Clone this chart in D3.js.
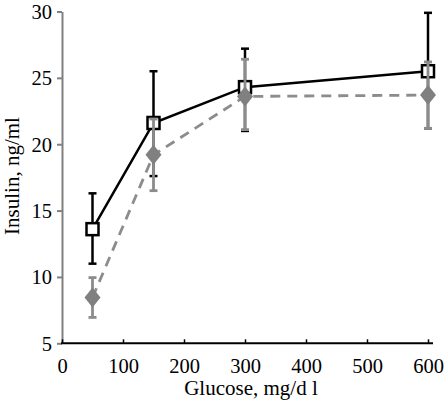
<!DOCTYPE html>
<html><head><meta charset="utf-8">
<script src="https://cdn.jsdelivr.net/npm/d3@7"></script>
<style>body{margin:0;background:#fff}svg{display:block}text{font-family:"Liberation Serif","Times New Roman",serif}</style>
</head><body><svg id="c" width="445" height="400"></svg>
<script>
const glucose = [50, 150, 300, 600];
const seriesA = [13.6, 21.6, 24.3, 25.5];
const seriesAUpper = [16.3, 25.5, 27.2, 29.9];
const seriesALower = [11.0, 17.6, 21.0, 21.2];
const seriesB = [8.45, 19.2, 23.6, 23.7];
const seriesBUpper = [9.95, 21.9, 26.4, 26.2];
const seriesBLower = [6.95, 16.5, 21.1, 21.2];
const xTicks = [0, 100, 200, 300, 400, 500, 600];
const yTicks = [5, 10, 15, 20, 25, 30];

const svg = d3.select("#c");
const x = d3.scaleLinear().domain([0, 600]).range([62, 428]);
const y = d3.scaleLinear().domain([5, 30]).range([343.3, 11.5]);

// axes
const gy = svg.append("g").attr("transform", "translate(62,0)")
  .call(d3.axisLeft(y).tickValues(yTicks).tickSize(5).tickSizeOuter(0).tickFormat(d3.format("d")));
gy.select(".domain").attr("stroke", "#808080").attr("stroke-width", 2);
gy.selectAll(".tick line").attr("stroke", "#808080").attr("stroke-width", 2);
gy.selectAll(".tick text").attr("font-size", 20.5).attr("fill", "#000").attr("x", -10).attr("dy", "0.34em")
  .style("font-family", "'Liberation Serif',serif");

const gx = svg.append("g").attr("transform", "translate(0,343.3)")
  .call(d3.axisBottom(x).tickValues(xTicks).tickSize(-4).tickSizeOuter(0).tickFormat(d3.format("d")));
gx.select(".domain").attr("stroke", "#000").attr("stroke-width", 2)
  .attr("d", `M${x(0)-1},0H${x(600)+5}`);
gx.selectAll(".tick line").attr("stroke", "#000").attr("stroke-width", 1.5);
gx.selectAll(".tick text").attr("font-size", 20.5).attr("fill", "#000").attr("y", 30).attr("dy", "0em")
  .style("font-family", "'Liberation Serif',serif");

svg.append("text").attr("x", 251).attr("y", 395).attr("text-anchor", "middle")
  .attr("font-size", 21).text("Glucose, mg/d l");
svg.append("text").attr("transform", "translate(18.5,176) rotate(-90)").attr("text-anchor", "middle")
  .attr("font-size", 21).text("Insulin, ng/ml");

const idx = d3.range(glucose.length);
const line = d3.line().x(i => x(glucose[i]));

function drawErr(g, up, lo, color, w, cap) {
  g.selectAll(null).data(idx).join("line")
    .attr("x1", i => x(glucose[i])).attr("x2", i => x(glucose[i]))
    .attr("y1", i => y(up[i])).attr("y2", i => y(lo[i]))
    .attr("stroke", color).attr("stroke-width", w);
  [up, lo].forEach(arr => {
    g.selectAll(null).data(idx).join("line")
      .attr("x1", i => x(glucose[i]) - cap).attr("x2", i => x(glucose[i]) + cap)
      .attr("y1", i => y(arr[i])).attr("y2", i => y(arr[i]))
      .attr("stroke", color).attr("stroke-width", w);
  });
}

// series A (black, solid, open squares)
const gA = svg.append("g");
gA.append("path").attr("d", line.y(i => y(seriesA[i]))(idx))
  .attr("fill", "none").attr("stroke", "#000").attr("stroke-width", 2.5);
drawErr(gA, seriesAUpper, seriesALower, "#000", 2.5, 4);
gA.selectAll("rect").data(idx).join("rect")
  .attr("x", i => x(glucose[i]) - 6).attr("y", i => y(seriesA[i]) - 6)
  .attr("width", 12).attr("height", 12)
  .attr("fill", "#fff").attr("stroke", "#000").attr("stroke-width", 2.5);

// series B (gray, dashed, diamonds)
const gB = svg.append("g");
gB.append("path").attr("d", line.y(i => y(seriesB[i]))(idx))
  .attr("fill", "none").attr("stroke", "#8c8c8c").attr("stroke-width", 2.8)
  .attr("stroke-dasharray", "10,7");
drawErr(gB, seriesBUpper, seriesBLower, "#8c8c8c", 2.8, 4);
gB.selectAll("path.d").data(idx).join("path").attr("class", "d")
  .attr("d", i => { const cx = x(glucose[i]), cy = y(seriesB[i]);
    return `M${cx},${cy-10}L${cx+8},${cy}L${cx},${cy+10}L${cx-8},${cy}Z`; })
  .attr("fill", "#808080");
</script></body></html>
